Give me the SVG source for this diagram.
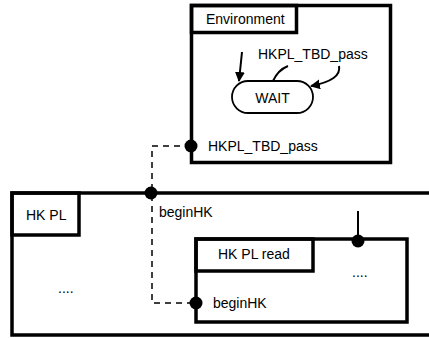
<svg xmlns="http://www.w3.org/2000/svg" width="429" height="338" viewBox="0 0 429 338">
<style>
.box{fill:none;stroke:#000;stroke-width:3.5}
.t{font-family:"Liberation Sans",Arial,sans-serif;font-size:14px;fill:#000}
.port{fill:#000}
.dash{fill:none;stroke:#000;stroke-width:1.5;stroke-dasharray:6,5}
.ln{fill:none;stroke:#000;stroke-width:2}
</style>
<defs>
<marker id="ah" viewBox="0 0 10 10" refX="9" refY="5" markerWidth="10" markerHeight="10" markerUnits="userSpaceOnUse" orient="auto">
<path d="M0,0 L10,5 L0,10 z" fill="#000"/>
</marker>
</defs>
<g id="connectors">
<polyline class="dash" points="191,146 152,146 152,303 196,303"/>
<line class="ln" x1="358" y1="211" x2="358" y2="241"/>
</g>
<g id="environment">
<rect class="box" x="191.5" y="5.5" width="199" height="157"/>
<rect class="box" x="191.5" y="5.5" width="105" height="27"/>
<text class="t" x="206" y="24">Environment</text>
<g id="wait">
<rect x="232" y="81" width="81" height="32" rx="16" fill="#fff" stroke="#000" stroke-width="1.8"/>
<text class="t" x="272.5" y="103" text-anchor="middle">WAIT</text>
</g>
<line class="ln" x1="242" y1="52" x2="239" y2="81" marker-end="url(#ah)"/>
<path class="ln" d="M273,81 Q278,70 288,66"/>
<path class="ln" d="M339,66 Q342,80 311,86" marker-end="url(#ah)"/>
<text class="t" x="258" y="59">HKPL_TBD_pass</text>
<circle class="port" cx="191" cy="146" r="6.5"/>
<text class="t" x="208" y="151">HKPL_TBD_pass</text>
</g>
<g id="hkpl">
<path class="box" d="M432,193 L12,193 L12,335 L432,335"/>
<rect class="box" x="12" y="193" width="67" height="42"/>
<text class="t" x="26" y="220">HK PL</text>
<circle class="port" cx="151" cy="193" r="6.5"/>
<text class="t" x="159" y="217">beginHK</text>
<text class="t" x="58" y="293">....</text>
</g>
<g id="hkplread">
<rect class="box" x="196" y="239" width="211" height="83"/>
<rect class="box" x="196" y="239" width="117" height="32"/>
<text class="t" x="218" y="259">HK PL read</text>
<circle class="port" cx="358" cy="241" r="6.5"/>
<text class="t" x="352" y="277">....</text>
<circle class="port" cx="196" cy="303" r="6.5"/>
<text class="t" x="213" y="308">beginHK</text>
</g>
</svg>
